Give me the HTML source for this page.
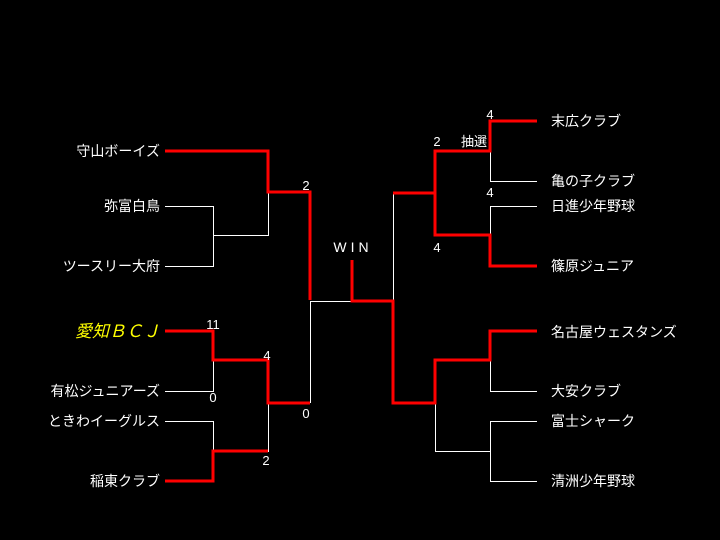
<!DOCTYPE html>
<html><head><meta charset="utf-8"><style>
body{margin:0;background:#000;width:720px;height:540px;overflow:hidden}
</style></head><body>
<svg width="720" height="540" xmlns="http://www.w3.org/2000/svg" style="display:block">
<rect width="720" height="540" fill="#000"/>
<g stroke="#fff" stroke-width="1" fill="none">
<path d="M165 206.5H213.5V266.5H165M213.5 235.5H268.5V192"/>
<path d="M213.5 360V391.5H165"/>
<path d="M165 421.5H213.5V451"/>
<path d="M268.5 403V451.5H216"/>
<path d="M310.5 301.5H352M310.5 301V403"/>
<path d="M490.5 151V181.5H537"/>
<path d="M537 206.5H490.5V235"/>
<path d="M435.5 151V193"/>
<path d="M393.5 193V301"/>
<path d="M490.5 360V391.5H537"/>
<path d="M435.5 403V451.5H490.5M537 421.5H490.5V481.5H537"/>
</g>
<g stroke="#f00" stroke-width="3" fill="none">
<path d="M165 151H268V192H310V300"/>
<path d="M352 260V301H393V403H435V360H490V331H537"/>
<path d="M165 331H213V360H268V403H310"/>
<path d="M165 481H213V451H268"/>
<path d="M537 121H490V151H435V193H393"/>
<path d="M435 193V235H490V266H537"/>
</g>
<g font-family="Liberation Sans, Noto Sans CJK JP, sans-serif" font-size="14" fill="#fff">
<g text-anchor="end">
<text x="160" y="156">守山ボーイズ</text>
<text x="160" y="211">弥富白鳥</text>
<text x="160" y="271">ツースリー大府</text>
<text x="160" y="396">有松ジュニアーズ</text>
<text x="160" y="426">ときわイーグルス</text>
<text x="160" y="486">稲東クラブ</text>
</g>
<text x="160" y="337" text-anchor="end" fill="#ff0" font-size="17" font-style="italic">愛知ＢＣＪ</text>
<text x="551" y="126">末広クラブ</text>
<text x="551" y="186">亀の子クラブ</text>
<text x="551" y="211">日進少年野球</text>
<text x="551" y="271">篠原ジュニア</text>
<text x="551" y="337">名古屋ウェスタンズ</text>
<text x="551" y="396">大安クラブ</text>
<text x="551" y="426">富士シャーク</text>
<text x="551" y="486">清洲少年野球</text>
<g font-size="13" text-anchor="middle">
<text x="306" y="190">2</text>
<text x="213" y="329">11</text>
<text x="213" y="402">0</text>
<text x="267" y="360">4</text>
<text x="266" y="465">2</text>
<text x="306" y="418">0</text>
<text x="490" y="119">4</text>
<text x="437" y="146">2</text>
<text x="474" y="146">抽選</text>
<text x="490" y="197">4</text>
<text x="437" y="252">4</text>
<text x="353" y="252" font-size="14" letter-spacing="4">WIN</text>
</g>
</g>
</svg>
</body></html>
